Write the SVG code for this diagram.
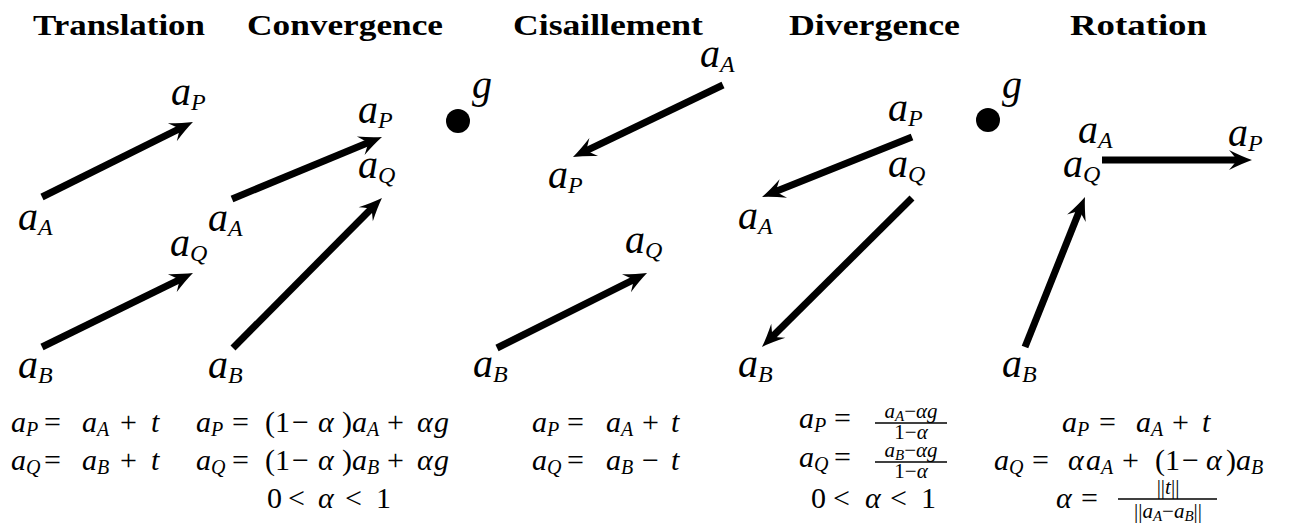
<svg xmlns="http://www.w3.org/2000/svg" width="1308" height="525" viewBox="0 0 1308 525">
<style>
.title{font-family:"Liberation Serif",serif;font-weight:bold;font-size:29px;fill:#000}
.L{font-family:"Liberation Serif",serif;font-style:italic;font-size:40px;fill:#000}
.Ls{font-size:24px}
.m{font-family:"Liberation Serif",serif;font-style:italic;font-size:30px;fill:#000}
.ms{font-size:20px}
.n{font-style:normal}
.f{font-family:"Liberation Serif",serif;font-style:italic;font-size:21px;fill:#000}
.fs{font-size:15px}
.arr{stroke:#000;stroke-width:7;fill:none;stroke-linecap:butt;marker-end:url(#ah)}
.bar{stroke:#000;stroke-width:1.5}
</style>
<defs>
<marker id="ah" viewBox="-24 -12 26 24" markerWidth="26" markerHeight="24" refX="-12" refY="0" orient="auto" markerUnits="userSpaceOnUse">
<path d="M0,0 Q-10,-3.5 -23,-10 Q-17,-3 -15,0 Q-17,3 -23,10 Q-10,3.5 0,0 Z" fill="#000"/>
</marker>
</defs>
<rect width="1308" height="525" fill="#fff"/>

<g id="titles">
<text class="title" x="33" y="35" textLength="172" lengthAdjust="spacingAndGlyphs">Translation</text>
<text class="title" x="247" y="35" textLength="196" lengthAdjust="spacingAndGlyphs">Convergence</text>
<text class="title" x="513" y="35" textLength="190" lengthAdjust="spacingAndGlyphs">Cisaillement</text>
<text class="title" x="789" y="35" textLength="171" lengthAdjust="spacingAndGlyphs">Divergence</text>
<text class="title" x="1070" y="35" textLength="137" lengthAdjust="spacingAndGlyphs">Rotation</text>
</g>

<g id="connectors">
<line class="arr" x1="42" y1="197" x2="182.2" y2="127.3"/>
<line class="arr" x1="42" y1="347" x2="182.2" y2="278.3"/>
<line class="arr" x1="232" y1="199" x2="370.9" y2="141.6"/>
<line class="arr" x1="233" y1="348" x2="373.5" y2="206.5"/>
<line class="arr" x1="723" y1="85" x2="583.8" y2="151.8"/>
<line class="arr" x1="497" y1="348" x2="636.3" y2="278.4"/>
<line class="arr" x1="912" y1="137" x2="773.1" y2="192.5"/>
<line class="arr" x1="912" y1="198" x2="770.5" y2="338.5"/>
<line class="arr" x1="1102" y1="160" x2="1240" y2="160"/>
<line class="arr" x1="1025" y1="347" x2="1080.5" y2="208.1"/>
</g>

<g id="translation">
<g id="t-aP"><text class="L" x="171" y="105">a<tspan class="Ls" dy="5">P</tspan></text></g>
<g id="t-aA"><text class="L" x="18" y="230">a<tspan class="Ls" dy="5">A</tspan></text></g>
<g id="t-aQ"><text class="L" x="170" y="256">a<tspan class="Ls" dy="5">Q</tspan></text></g>
<g id="t-aB"><text class="L" x="18" y="378">a<tspan class="Ls" dy="5">B</tspan></text></g>
</g>

<g id="convergence">
<g id="c-aP"><text class="L" x="358" y="123">a<tspan class="Ls" dy="5">P</tspan></text></g>
<g id="c-aQ"><text class="L" x="358" y="178">a<tspan class="Ls" dy="5">Q</tspan></text></g>
<g id="c-aA"><text class="L" x="208" y="231">a<tspan class="Ls" dy="5">A</tspan></text></g>
<g id="c-aB"><text class="L" x="208" y="378">a<tspan class="Ls" dy="5">B</tspan></text></g>
<g id="c-g"><circle cx="458" cy="121" r="12" fill="#000"/><text class="L" x="472" y="98">g</text></g>
</g>

<g id="cisaillement">
<g id="s-aA"><text class="L" x="700" y="67">a<tspan class="Ls" dy="5">A</tspan></text></g>
<g id="s-aP"><text class="L" x="548" y="188">a<tspan class="Ls" dy="5">P</tspan></text></g>
<g id="s-aQ"><text class="L" x="625" y="253">a<tspan class="Ls" dy="5">Q</tspan></text></g>
<g id="s-aB"><text class="L" x="473" y="377">a<tspan class="Ls" dy="5">B</tspan></text></g>
</g>

<g id="divergence">
<g id="d-aP"><text class="L" x="888" y="121">a<tspan class="Ls" dy="5">P</tspan></text></g>
<g id="d-aQ"><text class="L" x="888" y="177">a<tspan class="Ls" dy="5">Q</tspan></text></g>
<g id="d-aA"><text class="L" x="738" y="229">a<tspan class="Ls" dy="5">A</tspan></text></g>
<g id="d-aB"><text class="L" x="738" y="377">a<tspan class="Ls" dy="5">B</tspan></text></g>
<g id="d-g"><circle cx="988" cy="120" r="12" fill="#000"/><text class="L" x="1002" y="98">g</text></g>
</g>

<g id="rotation">
<g id="r-aA"><text class="L" x="1078" y="143">a<tspan class="Ls" dy="5">A</tspan></text></g>
<g id="r-aP"><text class="L" x="1228" y="146">a<tspan class="Ls" dy="5">P</tspan></text></g>
<g id="r-aQ"><text class="L" x="1063" y="177">a<tspan class="Ls" dy="5">Q</tspan></text></g>
<g id="r-aB"><text class="L" x="1002" y="377">a<tspan class="Ls" dy="5">B</tspan></text></g>
</g>

<g id="formulas-translation">
<text class="m"><tspan x="11" y="432">a</tspan><tspan class="ms" x="26" y="436">P</tspan><tspan class="n" x="44" y="432">=</tspan><tspan x="82" y="432">a</tspan><tspan class="ms" x="97" y="436">A</tspan><tspan class="n" x="120" y="432">+</tspan><tspan x="151" y="432">t</tspan></text>
<text class="m"><tspan x="11" y="470">a</tspan><tspan class="ms" x="26" y="474">Q</tspan><tspan class="n" x="44" y="470">=</tspan><tspan x="82" y="470">a</tspan><tspan class="ms" x="97" y="474">B</tspan><tspan class="n" x="120" y="470">+</tspan><tspan x="151" y="470">t</tspan></text>
</g>

<g id="formulas-convergence">
<text class="m"><tspan x="196" y="432">a</tspan><tspan class="ms" x="211" y="436">P</tspan><tspan class="n" x="232" y="432">=</tspan><tspan class="n" x="265" y="432">(</tspan><tspan class="n" x="275" y="432">1</tspan><tspan class="n" x="292" y="432">−</tspan><tspan x="318" y="432">α</tspan><tspan class="n" x="342" y="432">)</tspan><tspan x="352" y="432">a</tspan><tspan class="ms" x="367" y="436">A</tspan><tspan class="n" x="387" y="432">+</tspan><tspan x="417" y="432">α</tspan><tspan x="434" y="432">g</tspan></text>
<text class="m"><tspan x="196" y="470">a</tspan><tspan class="ms" x="211" y="474">Q</tspan><tspan class="n" x="232" y="470">=</tspan><tspan class="n" x="265" y="470">(</tspan><tspan class="n" x="275" y="470">1</tspan><tspan class="n" x="292" y="470">−</tspan><tspan x="318" y="470">α</tspan><tspan class="n" x="342" y="470">)</tspan><tspan x="352" y="470">a</tspan><tspan class="ms" x="367" y="474">B</tspan><tspan class="n" x="387" y="470">+</tspan><tspan x="417" y="470">α</tspan><tspan x="434" y="470">g</tspan></text>
<text class="m"><tspan class="n" x="267" y="508">0</tspan><tspan class="n" x="288" y="508">&lt;</tspan><tspan x="318" y="508">α</tspan><tspan class="n" x="345" y="508">&lt;</tspan><tspan class="n" x="376" y="508">1</tspan></text>
</g>

<g id="formulas-cisaillement">
<text class="m"><tspan x="532" y="432">a</tspan><tspan class="ms" x="547" y="436">P</tspan><tspan class="n" x="567" y="432">=</tspan><tspan x="606" y="432">a</tspan><tspan class="ms" x="621" y="436">A</tspan><tspan class="n" x="642" y="432">+</tspan><tspan x="671" y="432">t</tspan></text>
<text class="m"><tspan x="532" y="470">a</tspan><tspan class="ms" x="547" y="474">Q</tspan><tspan class="n" x="567" y="470">=</tspan><tspan x="606" y="470">a</tspan><tspan class="ms" x="621" y="474">B</tspan><tspan class="n" x="642" y="470">−</tspan><tspan x="671" y="470">t</tspan></text>
</g>

<g id="formulas-divergence">
<text class="m"><tspan x="799" y="428">a</tspan><tspan class="ms" x="814" y="432">P</tspan><tspan class="n" x="834" y="428">=</tspan></text>
<text class="f" x="911" y="418" text-anchor="middle">a<tspan class="fs" dy="3">A</tspan><tspan class="n" dy="-3">−</tspan>αg</text>
<line class="bar" x1="875" y1="423" x2="947" y2="423"/>
<text class="f" x="911" y="439" text-anchor="middle"><tspan class="n">1−</tspan>α</text>
<text class="m"><tspan x="799" y="467">a</tspan><tspan class="ms" x="814" y="471">Q</tspan><tspan class="n" x="834" y="467">=</tspan></text>
<text class="f" x="911" y="457" text-anchor="middle">a<tspan class="fs" dy="3">B</tspan><tspan class="n" dy="-3">−</tspan>αg</text>
<line class="bar" x1="875" y1="462" x2="947" y2="462"/>
<text class="f" x="911" y="478" text-anchor="middle"><tspan class="n">1−</tspan>α</text>
<text class="m"><tspan class="n" x="811" y="508">0</tspan><tspan class="n" x="833" y="508">&lt;</tspan><tspan x="865" y="508">α</tspan><tspan class="n" x="890" y="508">&lt;</tspan><tspan class="n" x="921" y="508">1</tspan></text>
</g>

<g id="formulas-rotation">
<text class="m"><tspan x="1062" y="432">a</tspan><tspan class="ms" x="1077" y="436">P</tspan><tspan class="n" x="1099" y="432">=</tspan><tspan x="1136" y="432">a</tspan><tspan class="ms" x="1151" y="436">A</tspan><tspan class="n" x="1172" y="432">+</tspan><tspan x="1202" y="432">t</tspan></text>
<text class="m"><tspan x="994" y="470">a</tspan><tspan class="ms" x="1009" y="474">Q</tspan><tspan class="n" x="1032" y="470">=</tspan><tspan x="1068" y="470">α</tspan><tspan x="1086" y="470">a</tspan><tspan class="ms" x="1101" y="474">A</tspan><tspan class="n" x="1122" y="470">+</tspan><tspan class="n" x="1155" y="470">(</tspan><tspan class="n" x="1165" y="470">1</tspan><tspan class="n" x="1182" y="470">−</tspan><tspan x="1206" y="470">α</tspan><tspan class="n" x="1226" y="470">)</tspan><tspan x="1236" y="470">a</tspan><tspan class="ms" x="1251" y="474">B</tspan></text>
<text class="m"><tspan x="1056" y="508">α</tspan><tspan class="n" x="1081" y="508">=</tspan></text>
<text class="f" x="1168" y="494" text-anchor="middle"><tspan class="n">||</tspan>t<tspan class="n">||</tspan></text>
<line class="bar" x1="1118" y1="499" x2="1217" y2="499"/>
<text class="f" x="1168" y="518" text-anchor="middle"><tspan class="n">||</tspan>a<tspan class="fs" dy="3">A</tspan><tspan class="n" dy="-3">−</tspan>a<tspan class="fs" dy="3">B</tspan><tspan class="n" dy="-3">||</tspan></text>
</g>
</svg>
